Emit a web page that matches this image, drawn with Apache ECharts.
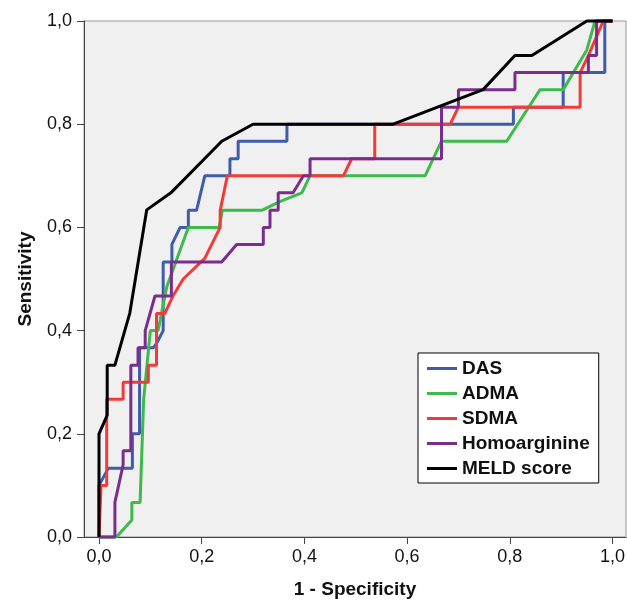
<!DOCTYPE html>
<html>
<head>
<meta charset="utf-8">
<script src="https://cdn.jsdelivr.net/npm/echarts@6/dist/echarts.min.js"></script>
<style>
  html, body { margin: 0; padding: 0; background: #fff; }
  #chart { width: 627px; height: 601px; }
</style>
</head>
<body>
<div id="chart"></div>
<script>
// ROC curves (x = 1 - specificity, y = sensitivity)
var xTicks = [0, 0.2, 0.4, 0.6, 0.8, 1.0]

var dasX = [0, 0, 0.018, 0.065, 0.065, 0.079, 0.079, 0.106, 0.112, 0.125, 0.125, 0.142, 0.142, 0.158, 0.174, 0.174, 0.19, 0.206, 0.255, 0.255, 0.271, 0.271, 0.366, 0.366, 0.807, 0.807, 0.904, 0.904, 0.985, 0.985, 1]
var dasY = [0, 0.1, 0.133, 0.133, 0.2, 0.2, 0.367, 0.367, 0.375, 0.4, 0.533, 0.533, 0.567, 0.6, 0.6, 0.633, 0.633, 0.7, 0.7, 0.733, 0.733, 0.767, 0.767, 0.8, 0.8, 0.833, 0.833, 0.9, 0.9, 1, 1]

var admaX = [0, 0.034, 0.064, 0.064, 0.08, 0.087, 0.1, 0.115, 0.132, 0.174, 0.234, 0.24, 0.317, 0.352, 0.395, 0.411, 0.635, 0.667, 0.794, 0.859, 0.904, 0.95, 0.966, 1]
var admaY = [0, 0, 0.033, 0.067, 0.067, 0.267, 0.4, 0.4, 0.485, 0.6, 0.6, 0.633, 0.633, 0.65, 0.667, 0.7, 0.7, 0.767, 0.767, 0.867, 0.867, 0.944, 1, 1]

var sdmaX = [0, 0.004, 0.015, 0.015, 0.047, 0.047, 0.096, 0.096, 0.112, 0.112, 0.128, 0.144, 0.164, 0.206, 0.236, 0.236, 0.25, 0.476, 0.492, 0.537, 0.537, 0.684, 0.7, 0.937, 0.937, 0.953, 0.982, 1]
var sdmaY = [0, 0.1, 0.1, 0.267, 0.267, 0.3, 0.3, 0.333, 0.333, 0.433, 0.433, 0.467, 0.5, 0.54, 0.6, 0.633, 0.7, 0.7, 0.733, 0.733, 0.8, 0.8, 0.833, 0.833, 0.9, 0.933, 1, 1]

var homoX = [0, 0.031, 0.031, 0.047, 0.047, 0.062, 0.062, 0.076, 0.076, 0.09, 0.09, 0.109, 0.141, 0.141, 0.239, 0.268, 0.32, 0.32, 0.333, 0.333, 0.349, 0.349, 0.378, 0.398, 0.411, 0.411, 0.667, 0.667, 0.7, 0.7, 0.81, 0.81, 0.953, 0.953, 0.969, 0.969, 1]
var homoY = [0, 0, 0.067, 0.14, 0.167, 0.167, 0.333, 0.333, 0.367, 0.367, 0.4, 0.467, 0.467, 0.533, 0.533, 0.567, 0.567, 0.6, 0.6, 0.633, 0.633, 0.667, 0.667, 0.7, 0.7, 0.733, 0.733, 0.833, 0.833, 0.867, 0.867, 0.9, 0.9, 0.933, 0.933, 1, 1]

var meldX = [0, 0, 0.016, 0.016, 0.031, 0.06, 0.093, 0.14, 0.239, 0.3, 0.573, 0.748, 0.81, 0.843, 0.95, 1]
var meldY = [0, 0.2, 0.236, 0.333, 0.333, 0.434, 0.634, 0.667, 0.767, 0.8, 0.8, 0.867, 0.933, 0.933, 1, 1]

var names = ['DAS', 'ADMA', 'SDMA', 'Homoarginine', 'MELD score']
var colors = ['#3f5cab', '#3dba4a', '#f23a3a', '#7a2d8c', '#000000']
var xs = [dasX, admaX, sdmaX, homoX, meldX]
var ys = [dasY, admaY, sdmaY, homoY, meldY]

function pairs (xArr, yArr) {
  return xArr.map(function (x, i) { return [x, yArr[i]] })
}

function comma (v) {
  return v.toFixed(1).replace('.', ',')
}

var chart = echarts.init(document.getElementById('chart'))

var option = {
  animation: false,
  textStyle: { fontFamily: 'Liberation Sans, Arial, sans-serif' },
  grid: {
    left: 84,
    right: 1,
    top: 21,
    bottom: 64,
    outerBoundsMode: 'none',
    containLabel: false,
    show: true,
    backgroundColor: '#f0f0f0',
    borderColor: '#999',
    borderWidth: 1
  },
  legend: {
    orient: 'vertical',
    left: 418,
    top: 353,
    padding: [6, 9, 5, 9],
    itemGap: 6,
    itemWidth: 30,
    itemHeight: 3,
    icon: 'rect',
    backgroundColor: '#fff',
    borderColor: '#000',
    borderWidth: 1,
    borderRadius: 0,
    textStyle: { fontSize: 19, fontWeight: 'bold', color: '#111', lineHeight: 19 },
    data: names
  },
  xAxis: {
    type: 'value',
    min: -0.0292,
    max: 1.0263,
    name: '1 - Specificity',
    nameLocation: 'middle',
    nameGap: 43,
    nameTextStyle: { fontSize: 19, fontWeight: 'bold', color: '#111' },
    axisLine: { show: true, lineStyle: { color: '#444', width: 1 } },
    axisTick: { show: true, length: 7, customValues: xTicks, lineStyle: { color: '#444' } },
    axisLabel: {
      customValues: xTicks,
      formatter: comma,
      fontSize: 18,
      color: '#111',
      margin: 11
    },
    splitLine: { show: false }
  },
  yAxis: {
    type: 'value',
    min: 0,
    max: 1,
    interval: 0.2,
    name: 'Sensitivity',
    nameLocation: 'middle',
    nameGap: 49,
    nameTextStyle: { fontSize: 19, fontWeight: 'bold', color: '#111' },
    axisLine: { show: true, onZero: false, lineStyle: { color: '#444', width: 1 } },
    axisTick: { show: true, length: 7, lineStyle: { color: '#444' } },
    axisLabel: {
      formatter: comma,
      fontSize: 18,
      color: '#111',
      margin: 12
    },
    splitLine: { show: false }
  },
  series: names.map(function (n, i) {
    return {
      name: n,
      type: 'line',
      data: pairs(xs[i], ys[i]),
      showSymbol: false,
      symbol: 'none',
      clip: false,
      color: colors[i],
      lineStyle: { color: colors[i], width: 3 },
      itemStyle: { color: colors[i] },
      emphasis: { disabled: true }
    }
  })
}

chart.setOption(option)
</script>
</body>
</html>
